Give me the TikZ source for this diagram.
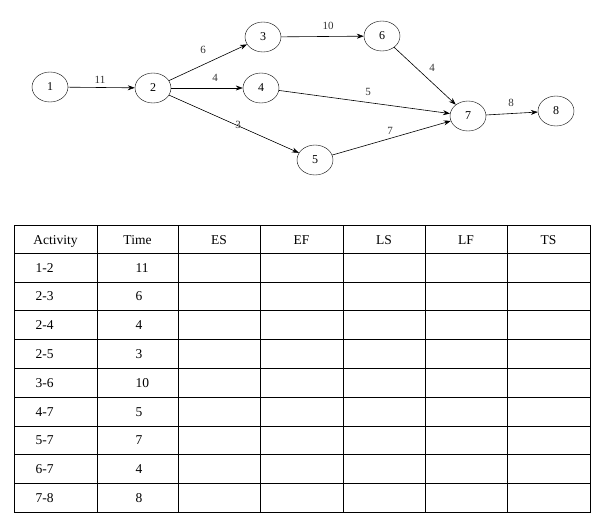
\documentclass[tikz,border=0pt]{standalone}
\usepackage{fontspec}
\setmainfont{Liberation Serif}
\usetikzlibrary{shapes.geometric,arrows.meta}
\begin{document}
\begin{tikzpicture}[x=1pt,y=-1pt,
  ev/.style={draw,ellipse,minimum width=36pt,minimum height=30pt,inner sep=0pt,font=\fontsize{12}{13}\selectfont},
  ar/.style={-{Stealth[length=7pt,width=5pt]},line width=0.6pt},
  lb/.style={font=\fontsize{11}{12}\selectfont,text=black!80},
  cell/.style={font=\fontsize{13.5}{15}\selectfont,anchor=base}]
\useasboundingbox (0,0) rectangle (610,531);
\node[ev] (n1) at (50,87) {1};
\node[ev] (n2) at (153,88) {2};
\node[ev] (n3) at (263,37) {3};
\node[ev] (n4) at (261,88) {4};
\node[ev] (n5) at (315,160) {5};
\node[ev] (n6) at (382,36) {6};
\node[ev] (n7) at (468,116) {7};
\node[ev] (n8) at (556,111) {8};
\draw[ar] (n1) -- (n2);
\draw[ar] (n2) -- (n3);
\draw[ar] (n2) -- (n4);
\draw[ar] (n2) -- (n5);
\draw[ar] (n3) -- (n6);
\draw[ar] (n6) -- (n7);
\draw[ar] (n4) -- (n7);
\draw[ar] (n5) -- (n7);
\draw[ar] (n7) -- (n8);
\node[lb] (l1) at (100,80) {11};
\node[lb] (l2) at (203,50) {6};
\node[lb] (l3) at (215,78) {4};
\node[lb] (l4) at (238,125) {3};
\node[lb] (l5) at (328,26) {10};
\node[lb] (l6) at (432,68) {4};
\node[lb] (l7) at (368,92) {5};
\node[lb] (l8) at (390,131) {7};
\node[lb] (l9) at (511,103) {8};
% table
\draw[line width=0.6pt] (14,225) rectangle (590,512);
\foreach \x in {97,178,260,343,425,507} \draw[line width=0.6pt] (\x,225) -- (\x,512);
\foreach \y in {253,281.8,310.6,339.4,368.2,397,425.8,454.6,483.4} \draw[line width=0.6pt] (14,\y) -- (590,\y);
\foreach \t/\x in {Activity/55.5,Time/137.5,ES/219,EF/301.5,LS/384,LF/466,TS/548.5}
  \node[cell] (h\t) at (\x,244) {\t};
\foreach \a/\b [count=\i from 0] in {1-2/11,2-3/6,2-4/4,2-5/3,3-6/10,4-7/5,5-7/7,6-7/4,7-8/8}{
  \node[cell,anchor=base west] (a\i) at (32,272+28.8*\i) {\a};
  \node[cell,anchor=base west] (t\i) at (132,272+28.8*\i) {\b};
}
\end{tikzpicture}
\end{document}
